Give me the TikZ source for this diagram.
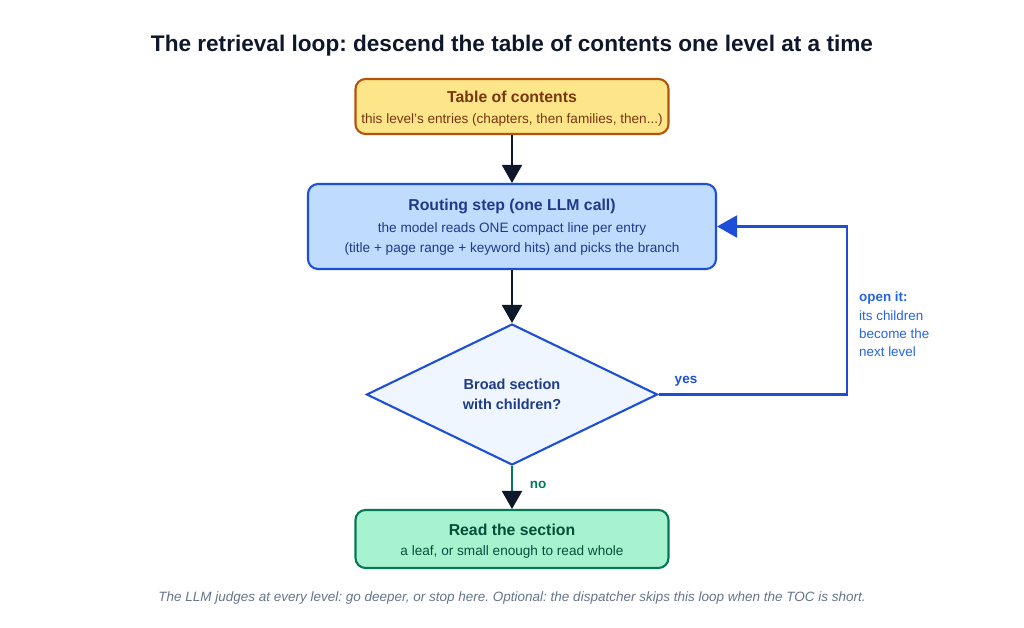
\documentclass[tikz,border=0pt]{standalone}
\usepackage{fontspec}
\setmainfont{Liberation Sans}
\frenchspacing
\usetikzlibrary{arrows.meta,shapes.geometric,positioning}
\definecolor{inkdark}{HTML}{0F172A}
\definecolor{tocfill}{HTML}{FDE68A}
\definecolor{tocdraw}{HTML}{B45309}
\definecolor{toctext}{HTML}{78350F}
\definecolor{routefill}{HTML}{BFDBFE}
\definecolor{routedraw}{HTML}{1D4ED8}
\definecolor{routetext}{HTML}{1E3A8A}
\definecolor{notetext}{HTML}{2563EB}
\definecolor{checkfill}{HTML}{EFF6FF}
\definecolor{readfill}{HTML}{A7F3D0}
\definecolor{readdraw}{HTML}{047857}
\definecolor{readtext}{HTML}{064E3B}
\definecolor{notegray}{HTML}{64748B}
\tikzset{
% Boxes of the loop: one style, coloured per step
step box/.style={rectangle,rounded corners=10pt,line width=2.1pt,align=center,inner sep=0pt,font=\fontsize{13.6}{19.5}\selectfont},
% Arrows between the steps
flow/.style={line width=2.1pt,draw=inkdark,-{Triangle[width=20pt,length=18pt]}}
}
\newcommand{\boxtitle}[1]{{\fontsize{15.8}{19}\selectfont\bfseries #1}}

\begin{document}
\begin{tikzpicture}[x=1pt,y=-1pt]
		\useasboundingbox (0,0) rectangle (1024,627);
		% Title
		\node(title)[inkdark,font=\fontsize{22.6}{26}\selectfont\bfseries] at (512,46) {The retrieval loop: descend the table of contents one level at a time};
		% The boxes
		\node(toc)[step box,fill=tocfill,draw=tocdraw,text=toctext,minimum width=313pt,minimum height=55pt] at (512,106.5)
			{\boxtitle{\rule{0pt}{16pt}Table of contents}\\[1.5pt]this level's entries (chapters, then families, then...)};
		\node(route)[step box,fill=routefill,draw=routedraw,text=routetext,minimum width=408pt,minimum height=85pt] at (512,226.5)
			{\boxtitle{\rule{0pt}{13pt}Routing step (one LLM call)}\\[2.5pt]the model reads ONE compact line per entry\\(title + page range + keyword hits) and picks the branch};
		\node(check)[diamond,aspect=2.06,fill=checkfill,draw=routedraw,line width=2.1pt,text=routetext,align=center,inner sep=0pt,
			minimum width=291pt,minimum height=141pt,font=\fontsize{14.5}{20}\selectfont\bfseries] at (512,394.5)
			{Broad section\\with children?};
		\node(read)[step box,fill=readfill,draw=readdraw,text=readtext,minimum width=313pt,minimum height=58pt] at (512,539)
			{\boxtitle{\rule{0pt}{16pt}Read the section}\\[1pt]a leaf, or small enough to read whole};
		% Connectors
		\draw[flow] (toc) -- (route);
		\draw[flow] (route) -- (check);
		\draw[flow,draw=readdraw,-{Triangle[width=20pt,length=18pt,color=inkdark]}] (check) -- (read);
		\coordinate(bend) at (847,394.5);
		\draw[line width=2.1pt,draw=routedraw,-{Triangle[width=22pt,length=20pt]}] (check.east) -- (bend) |- (route.east);
		% Labels
		\node(yes)[routedraw,font=\fontsize{13.5}{15}\selectfont\bfseries] at (686,381) {yes};
		\node(no)[readdraw,font=\fontsize{13.5}{15}\selectfont\bfseries] at (538,485) {no};
		\node(note)[anchor=north west,align=left,inner sep=0pt,text=notetext,font=\fontsize{13.4}{18.3}\selectfont] at (859,292)
			{\textbf{open it:}\\its children\\become the\\next level};
		\node(caption)[notegray,font=\fontsize{13.5}{15}\selectfont\itshape] at (512,598)
			{The LLM judges at every level: go deeper, or stop here. Optional: the dispatcher skips this loop when the TOC is short.};
	\end{tikzpicture}
\end{document}
